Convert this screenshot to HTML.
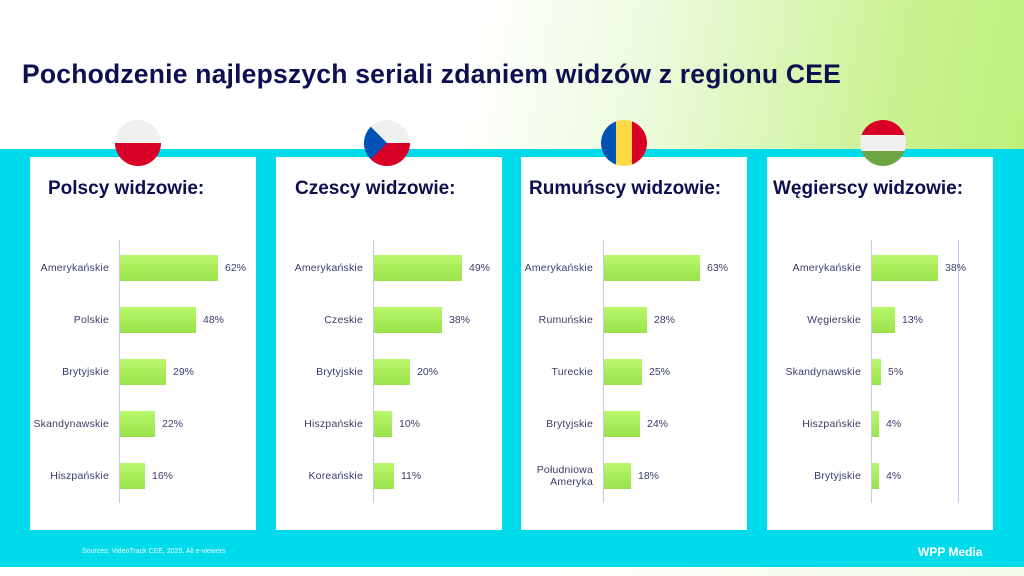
<!DOCTYPE html>
<html><head><meta charset="utf-8"><style>
*{margin:0;padding:0;box-sizing:border-box}
body{width:1024px;height:576px;overflow:hidden;position:relative;font-family:"Liberation Sans",sans-serif;background:linear-gradient(100deg,#fff 0%,#fff 42%,#eefbe0 58%,#c9f28e 82%,#b8ef72 100%)}
.bg{position:absolute;left:0;top:149px;width:1024px;height:418px;background:#00dbec}
.bot{position:absolute;left:0;top:567px;width:1024px;height:9px;background:linear-gradient(90deg,#fff 45%,#f3fbe8 100%)}
h1{position:absolute;left:22px;top:59px;font-size:26.5px;font-weight:bold;color:#0d0f4f;letter-spacing:0.2px;white-space:nowrap}
.panel{position:absolute;top:157px;width:226px;height:373px;background:#fff}
.pt{position:absolute;top:178px;font-size:19px;font-weight:bold;color:#0d0f4f;white-space:nowrap}
.flag{position:absolute;top:120px;width:46px;height:46px;border-radius:50%;overflow:hidden}
.ax{position:absolute;top:240px;height:263px;width:1px;background:#c9c6f2}
.bar{position:absolute;height:26px;background:linear-gradient(#b8f76c,#9ae24a)}
.lb{position:absolute;font-size:10.5px;color:#3a3c6e;text-align:right;line-height:12px;letter-spacing:0.2px}
.v{position:absolute;font-size:10.5px;color:#3a3c6e}
.src{position:absolute;left:82px;top:548px;font-size:7px;color:#e8fbff}
.wpp{position:absolute;left:918px;top:545px;font-size:12px;font-weight:bold;color:#fff}
</style></head><body>
<div class="bg"></div><div class="bot"></div>
<h1>Pochodzenie najlepszych seriali zdaniem widzów z regionu CEE</h1>
<div id="c"></div>
<div class="src">Sources: VideoTrack CEE, 2025, All e-viewers</div>
<div class="wpp">WPP Media</div>
<script>
const P=[
{x:30,t:"Polscy widzowie:",tx:48,ax:119,s:1.58,fl:"linear-gradient(#f0f0f0 50%,#d80027 50%)",fx:115,d:[["Amerykańskie",62],["Polskie",48],["Brytyjskie",29],["Skandynawskie",22],["Hiszpańskie",16]]},
{x:276,t:"Czescy widzowie:",tx:295,ax:373,s:1.8,fx:364,cz:1,d:[["Amerykańskie",49],["Czeskie",38],["Brytyjskie",20],["Hiszpańskie",10],["Koreańskie",11]]},
{x:521,t:"Rumuńscy widzowie:",tx:529,ax:603,s:1.52,fl:"linear-gradient(90deg,#0052b4 33%,#ffda44 33% 67%,#d80027 67%)",fx:601,d:[["Amerykańskie",63],["Rumuńskie",28],["Tureckie",25],["Brytyjskie",24],["Południowa<br>Ameryka",18]]},
{x:767,t:"Węgierscy widzowie:",tx:773,ax:871,s:1.74,fl:"linear-gradient(#d80027 33%,#f0f0f0 33% 67%,#6da544 67%)",fx:860,r:958,d:[["Amerykańskie",38],["Węgierskie",13],["Skandynawskie",5],["Hiszpańskie",4],["Brytyjskie",4]]}];
let h="";
P.forEach(p=>{
h+=`<div class="panel" style="left:${p.x}px"></div>`;
if(p.cz){h+=`<div class="flag" style="left:${p.fx}px;background:linear-gradient(#f0f0f0 50%,#d80027 50%)"><svg width="46" height="46" style="position:absolute;left:0;top:0"><polygon points="0,0 23,23 0,46" fill="#0052b4"/></svg></div>`}
else h+=`<div class="flag" style="left:${p.fx}px;background:${p.fl}"></div>`;
h+=`<div class="pt" style="left:${p.tx}px">${p.t}</div>`;
h+=`<div class="ax" style="left:${p.ax}px"></div>`;
if(p.r)h+=`<div class="ax" style="left:${p.r}px"></div>`;
p.d.forEach((d,i)=>{const cy=268+i*52,w=Math.round(d[1]*p.s);
const two=d[0].includes("<br>");
h+=`<div class="lb" style="left:${p.x-10}px;width:${p.ax-p.x}px;top:${cy-(two?12:6)}px">${d[0]}</div>`;
h+=`<div class="bar" style="left:${p.ax+1}px;top:${cy-13}px;width:${w}px"></div>`;
h+=`<div class="v" style="left:${p.ax+w+8}px;top:${cy-6}px">${d[1]}%</div>`;});
});
document.getElementById("c").innerHTML=h;
</script>
</body></html>
